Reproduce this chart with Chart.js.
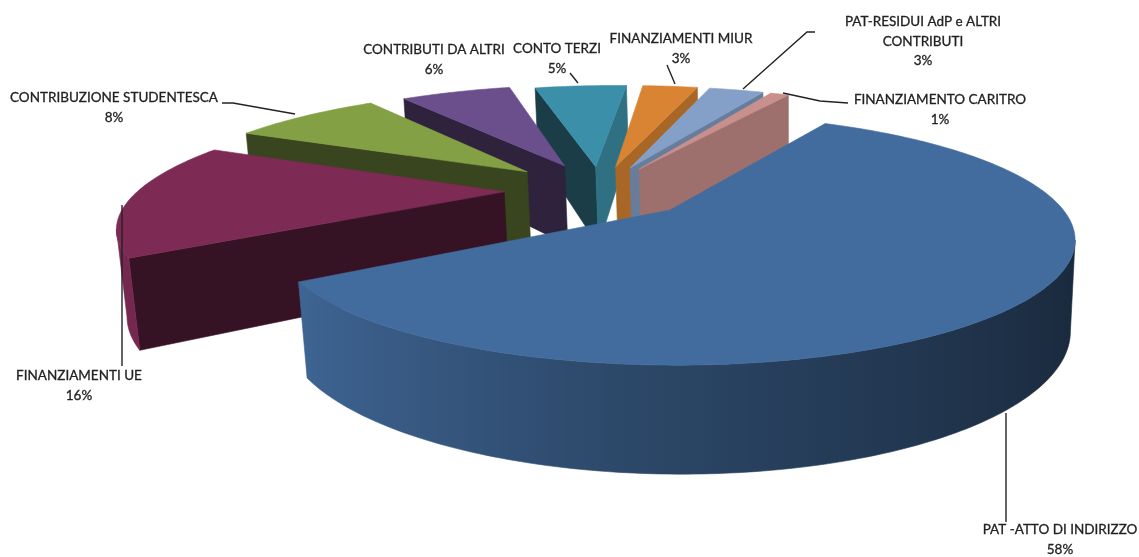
<!DOCTYPE html>
<html>
<head>
<meta charset="utf-8">
<title>Fonti di finanziamento</title>
<script src="https://cdn.jsdelivr.net/npm/chart.js@4/dist/chart.umd.js"></script>
<style>
  html, body { margin: 0; padding: 0; background: #fff; }
  #wrap { width: 1139px; height: 557px; }
</style>
</head>
<body>
<div id="wrap"><canvas id="c" width="1139" height="557"></canvas></div>
<script>
// Funding sources, clockwise from the large slice
const categories = ['PAT -ATTO DI INDIRIZZO', 'FINANZIAMENTI UE', 'CONTRIBUZIONE STUDENTESCA', 'CONTRIBUTI DA ALTRI', 'CONTO TERZI', 'FINANZIAMENTI MIUR', 'PAT-RESIDUI AdP e ALTRI CONTRIBUTI', 'FINANZIAMENTO CARITRO'];
const shares = [58, 16, 8, 6, 5, 3, 3, 1];

// Slice colours and explosion distance
const sliceColors = ['#436c9e', '#7d2a55', '#83a045', '#6a4f8c', '#3c8fa8', '#d98432', '#85a0c8', '#c98f8d'];
const explode = [63, 63, 67, 63, 55, 55, 55, 55];

// Wall brightness of the two cut faces of each wedge
const startCutShade = 0.43;
const endCutShade = 0.78;

// Back-to-front painting order (indices into the series)
const paintOrder = [4, 5, 6, 7, 3, 2, 1, 0];

// Perspective camera for the tilted disc
const view = { cx: 600, cy: 190, R: 375, a: 0.29, p: 0.0006, r: 0.000073, roll: 0.021, H: 84, q: 0.015, vx: 790 };

// Text lines of each label, in series order; the percentage is appended from the data
const labelLines = [
  ['PAT -ATTO DI INDIRIZZO'], ['FINANZIAMENTI UE'], ['CONTRIBUZIONE STUDENTESCA'], ['CONTRIBUTI DA ALTRI'],
  ['CONTO TERZI'], ['FINANZIAMENTI MIUR'], ['PAT-RESIDUI AdP e ALTRI', 'CONTRIBUTI'], ['FINANZIAMENTO CARITRO']
];
const labelCentres = [[1060, 530], [79, 376], [114, 98], [434, 50], [557, 49], [681, 39], [923, 22], [940, 100]];
const labelLeading = 19.5;
const leaders = [
  [[1006, 413], [1006, 522]],
  [[122, 205], [122, 366]],
  [[222, 103], [233, 103], [295, 114]],
  [],
  [[570, 73], [578, 83]],
  [[667, 65], [675, 84]],
  [[815, 32], [807, 32], [743, 89]],
  [[783, 93], [820, 101], [848, 103]]
];

function project(nx, ny, h) {
  const x = nx * view.R;
  const wx = view.cx + x;
  const wy = ny * view.R;
  const w = 1 - view.p * wy - view.r * x + view.q * h;
  return [view.vx + (wx - view.vx) / w, view.cy + (view.a * wy + view.roll * x + view.H * h) / w];
}

function shade(hex, f) {
  const n = parseInt(hex.slice(1), 16);
  const ch = s => Math.round(((n >> s) & 255) * f);
  return `rgb(${ch(16)},${ch(8)},${ch(0)})`;
}

function fillPoly(ctx, pts, color) {
  ctx.beginPath();
  pts.forEach((p, i) => i ? ctx.lineTo(p[0], p[1]) : ctx.moveTo(p[0], p[1]));
  ctx.closePath();
  ctx.fillStyle = color;
  ctx.strokeStyle = color;
  ctx.lineWidth = 0.6;
  ctx.fill();
  ctx.stroke();
}

// True when the outward normal at a plane point looks towards the camera
function facesCamera(px, py, nx, ny) {
  const camX = (view.vx - view.cx) / view.R - px;
  const camY = 1 / (view.p * view.R) - py;
  return nx * camX + ny * camY > 0;
}

// Brightness of the curved wall, lit from the left
function rimShade(nx) {
  return nx < 0 ? 0.66 - nx * 0.34 : 0.66 - nx * 0.28;
}

function drawRim(ctx, run, color) {
  if (run.length < 2) return;
  const top = run.map(p => project(p.x, p.y, 0));
  const bottom = run.map(p => project(p.x, p.y, 1)).reverse();
  const xs = top.map(p => p[0]);
  const x0 = Math.min(...xs), x1 = Math.max(...xs);
  const grad = ctx.createLinearGradient(x0, 0, x1, 0);
  run.forEach((p, i) => grad.addColorStop((xs[i] - x0) / (x1 - x0 || 1), shade(color, rimShade(Math.cos(p.t)))));
  fillPoly(ctx, [...top, ...bottom], grad);
}

function drawWedge(ctx, arc, color) {
  const a0 = arc.startAngle, a1 = arc.endAngle, mid = (a0 + a1) / 2;
  const off = arc.options.offset / arc.outerRadius;
  const ox = off * Math.cos(mid), oy = off * Math.sin(mid);
  const rim = [];
  const steps = Math.max(2, Math.ceil((a1 - a0) / (Math.PI / 180)));
  for (let i = 0; i <= steps; i++) {
    const t = a0 + (a1 - a0) * i / steps;
    rim.push({ t, x: ox + Math.cos(t), y: oy + Math.sin(t) });
  }
  const first = rim[0], last = rim[steps];
  const cut = (edge, f) => fillPoly(ctx, [
    project(ox, oy, 0), project(edge.x, edge.y, 0), project(edge.x, edge.y, 1), project(ox, oy, 1)
  ], shade(color, f));

  if (facesCamera(ox, oy, Math.sin(a0), -Math.cos(a0))) cut(first, startCutShade);
  if (facesCamera(ox, oy, -Math.sin(a1), Math.cos(a1))) cut(last, endCutShade);

  drawRim(ctx, rim.filter(p => facesCamera(p.x, p.y, Math.cos(p.t), Math.sin(p.t))), color);
  fillPoly(ctx, [project(ox, oy, 0), ...rim.map(p => project(p.x, p.y, 0))], color);
}

const disc3d = {
  id: 'disc3d',
  beforeDatasetsDraw(chart) {
    const ctx = chart.ctx, arcs = chart.getDatasetMeta(0).data;
    ctx.save();
    paintOrder.forEach(i => drawWedge(ctx, arcs[i], sliceColors[i]));
    ctx.restore();
    return false;
  },
  afterDraw(chart) {
    const ctx = chart.ctx;
    ctx.save();
    ctx.strokeStyle = '#232323';
    ctx.lineWidth = 1.4;
    leaders.forEach(path => {
      if (!path.length) return;
      ctx.beginPath();
      path.forEach((p, i) => i ? ctx.lineTo(p[0], p[1]) : ctx.moveTo(p[0], p[1]));
      ctx.stroke();
    });
    ctx.fillStyle = '#222222';
    ctx.strokeStyle = '#222222';
    ctx.lineWidth = 0.3;
    ctx.font = '13.5px Lato';
    ctx.textAlign = 'center';
    ctx.textBaseline = 'middle';
    labelLines.forEach((lines, i) => {
      const rows = [...lines, shares[i] + '%'];
      rows.forEach((t, r) => {
        const y = labelCentres[i][1] + r * labelLeading;
        ctx.fillText(t, labelCentres[i][0], y);
        ctx.strokeText(t, labelCentres[i][0], y);
      });
    });
    ctx.restore();
  }
};

new Chart(document.getElementById('c'), {
  type: 'pie',
  data: {
    labels: categories,
    datasets: [{ data: shares, backgroundColor: sliceColors, offset: explode, borderWidth: 0 }]
  },
  options: {
    responsive: false,
    animation: false,
    rotation: 24.5,
    plugins: { legend: { display: false }, tooltip: { enabled: false } }
  },
  plugins: [disc3d]
});
</script>
</body>
</html>
